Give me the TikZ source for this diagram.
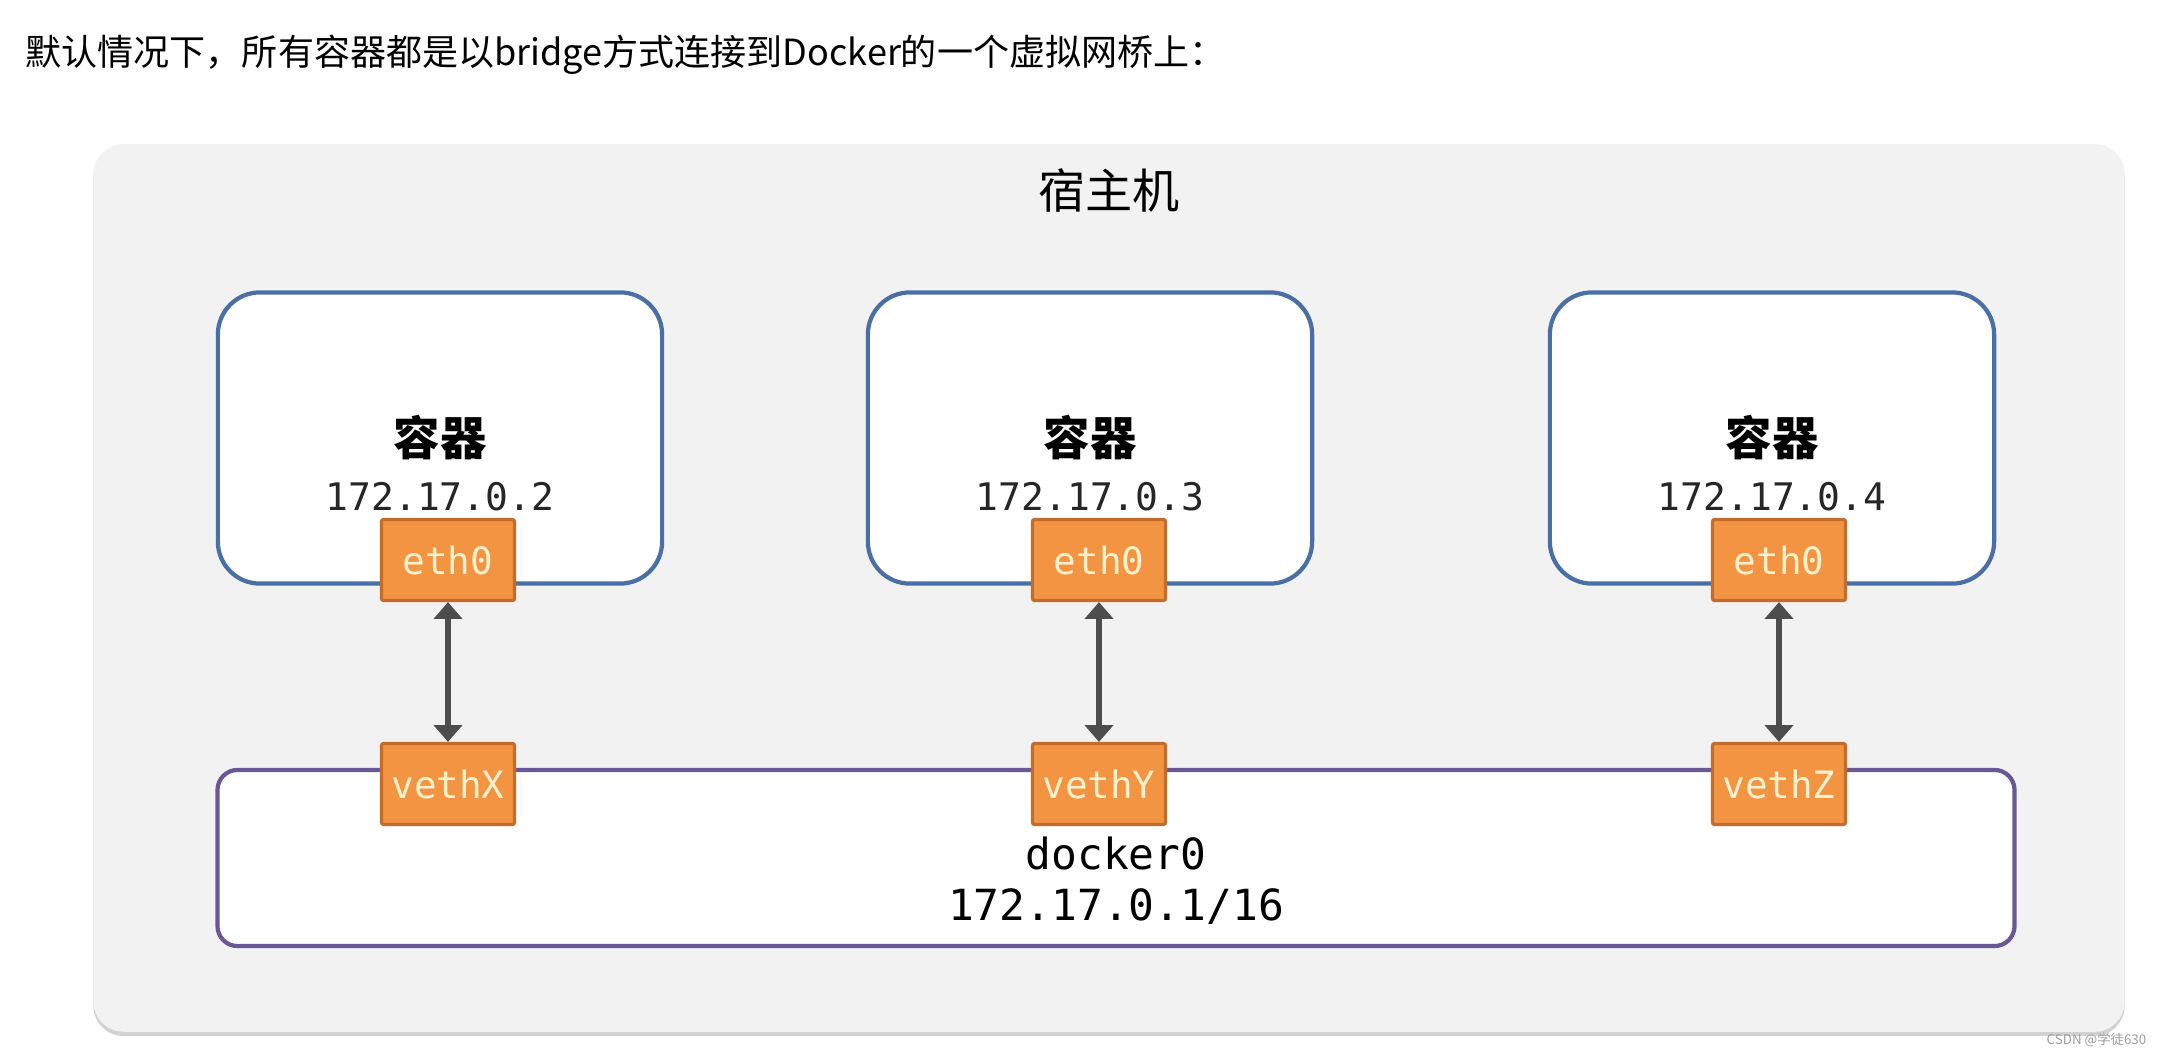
\documentclass[tikz,border=0pt]{standalone}
\usepackage{fontspec}
\usepackage{tikz}
\usetikzlibrary{arrows.meta,shadows}
\usetikzlibrary{positioning}
\newfontfamily\cjk{Noto Sans CJK SC}
\setmonofont{DejaVu Sans Mono}

\definecolor{hostgray}{HTML}{F2F2F2}
\definecolor{boxblue}{HTML}{4A6FA5}
\definecolor{bridgepurple}{HTML}{6A5896}
\definecolor{portorange}{HTML}{F39443}
\definecolor{portedge}{HTML}{C46C2A}
\definecolor{porttext}{HTML}{FFF1CC}
\definecolor{linkgray}{HTML}{4D4D4D}

\tikzset{
  hostbox/.style={rectangle,rounded corners=0.3cm,fill=hostgray,draw=none,
    minimum width=20.3cm,minimum height=8.87cm,
    drop shadow={shadow xshift=0pt,shadow yshift=-1.2pt,opacity=0.35}},
  containerbox/.style={rectangle,rounded corners=0.42cm,fill=white,draw=boxblue,
    line width=1.2pt,minimum width=4.44cm,minimum height=2.91cm},
  bridgebox/.style={rectangle,rounded corners=0.2cm,fill=white,draw=bridgepurple,
    line width=1.2pt,minimum width=17.96cm,minimum height=1.76cm},
  port/.style={rectangle,rounded corners=0.6pt,fill=portorange,draw=portedge,
    line width=0.9pt,minimum width=1.33cm,minimum height=0.81cm,inner sep=0pt,
    text=porttext,font=\ttfamily\fontsize{10.7}{12}\selectfont},
  link/.style={draw=linkgray,line width=1.5pt,
    {Triangle[width=8pt,length=4.8pt]}-{Triangle[width=8pt,length=4.8pt]}},
  cname/.style={font=\cjk\bfseries\fontsize{13.2}{15}\selectfont},
  cip/.style={text=black!85,font=\ttfamily\fontsize{10.8}{12}\selectfont}
}

\begin{document}
\begin{tikzpicture}[x=0.01cm,y=-0.01cm]
\useasboundingbox[fill=white] (0,0) rectangle (2163,1057);
\node at (25,55)[anchor=west,inner sep=0pt,font=\cjk\fontsize{10.25}{12}\selectfont](title){默认情况下，所有容器都是以bridge方式连接到Docker的一个虚拟网桥上：};
% host
\node at (1109,588)[hostbox](host){};
\node at (1109,190)[font=\cjk\fontsize{13.4}{15}\selectfont](hostname){宿主机};
% containers
\node at (440,438)[containerbox](c1){};
\node at (1090,438)[containerbox](c2){};
\node at (1772,438)[containerbox](c3){};
\node at (440,438)[cname](n1){容器};
\node at (1090,438)[cname](n2){容器};
\node at (1772,438)[cname](n3){容器};
\node at (440,497)[cip](ip1){172.17.0.2};
\node at (1090,497)[cip](ip2){172.17.0.3};
\node at (1772,497)[cip](ip3){172.17.0.4};
% bridge
\node at (1116,858)[bridgebox](br){};
\node at (1116,853)[font=\ttfamily\fontsize{12.2}{14}\selectfont](brname){docker0};
\node at (1116,907)[font=\ttfamily\fontsize{12.2}{14}\selectfont](brip){172.17.0.1/16};
% ports
\node at (448,560)[port](eth1){eth0};
\node at (1099,560)[port](eth2){eth0};
\node at (1779,560)[port](eth3){eth0};
\node at (448,784)[port](vx){vethX};
\node at (1099,784)[port](vy){vethY};
\node at (1779,784)[port](vz){vethZ};
\draw[link] (eth1.south) -- (vx.north);
\draw[link] (eth2.south) -- (vy.north);
\draw[link] (eth3.south) -- (vz.north);
\node at (2147,1040)[anchor=east,inner sep=0pt,text=black!38,font=\cjk\fontsize{3.8}{4}\selectfont](mark){CSDN @学徒630};
\end{tikzpicture}
\end{document}
